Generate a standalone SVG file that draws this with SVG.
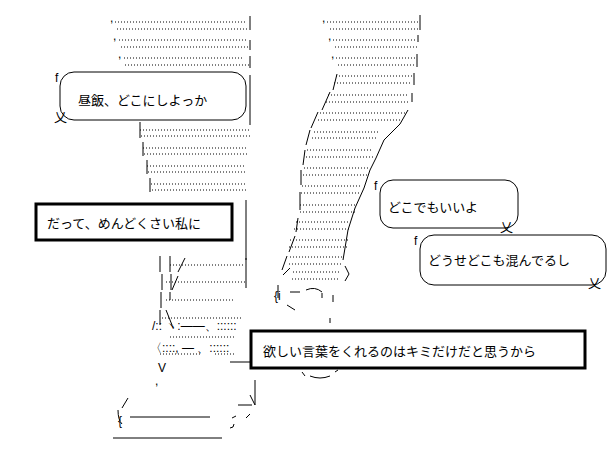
<svg xmlns="http://www.w3.org/2000/svg" width="616" height="476" viewBox="0 0 616 476">
<style>
.d{stroke:#000;stroke-width:1;stroke-dasharray:1 2;fill:none}
.l{stroke:#000;stroke-width:1;fill:none}
.t{font-family:"Noto Sans CJK JP","Noto Sans",sans-serif;font-size:13px;fill:#000}
.a{font-family:"Liberation Sans",sans-serif;font-size:12px;fill:#000}
.bub{fill:#fff;stroke:#000;stroke-width:1}
.box{fill:#fff;stroke:#000;stroke-width:3}
</style>
<rect width="616" height="476" fill="#fff"/>
<g id="leftleg">
<path class="d" d="M115 22H245M117 29H248M119 40H246M121 47H250M124 58H244M125 65H250M140 130H250M141 136H250M143 148H248M144 154H248M147 166H246M148 172H246M151 184H247M152 190H247"/>
<path class="l" d="M250 16V30M250 40V50M250 56V68M250 75V125M140 122V138M143 142V156M147 160V174M150 178V192M246 200V260"/>
<text class="a" x="110" y="22">,</text><text class="a" x="113" y="40">,</text><text class="a" x="118" y="58">,</text>
<path class="d" d="M170 265H245M166 282H245M166 300H235M162 318H243M170 337H235M160 354H200M215 354H235"/>
<path class="l" d="M160 256V272M170 256V272M162 274V290M171 274V290M161 292V308M170 292V300M246 258V288M160 310V325M166 310L172 325M185 258L178 272M178 276L172 290"/>
<text class="a" x="152" y="330">/:: ヽ:——、::::::</text>
<text class="a" x="150" y="352">〈::::,  —  、::::::</text>
<text class="a" x="158" y="372">V</text>
<text class="a" x="155" y="385">,</text>
<path class="l" d="M230 362H250M255 380V405M238 405H252M250 395L255 405M128 398L122 408M118 410Q118 420 122 424M130 417H210M113 438H222M232 418L236 416M246 418L250 414M230 428Q234 428 234 424"/>
<text class="a" x="118" y="425">{</text>
</g>
<g id="rightleg">
<path class="d" d="M327 22H420M330 29H420M333 40H417M335 47H417M336 58H415M338 65H415M336 76H412M334 83H412M328 95H408M326 102H408M320 113H405M318 120H402M314 132H378M312 138H378M307 150H373M306 157H373M304 168H368M303 175H368M302 186H360M301 193H360M300 205H356M300 212H356M296 222H350M294 229H350M290 240H348M289 247H348M290 257H342M289 264H342M293 272H340M292 279H340"/>
<path class="l" d="M420 15V30M418 35V42M417 54V67M414 73V85M412 93V102M337 74L333 90M330 92L322 110M318 112L311 128M408 110L400 124L384 140L376 158L370 170L364 188L355 208L348 230L345 248L343 260M310 130L306 145M305 150L303 165M301 170L301 185M300 192V210M298 218L296 232M295 236L289 252M287 256L282 270M283 275L290 268M345 266L349 274L345 281M278 285V298M290 292H300M306 290Q315 286 322 292M322 293V298M333 295V302M287 305L295 310M330 318V323M310 376Q320 380 330 376M302 372L305 376M335 372L338 370"/>
<text class="a" x="322" y="22">,</text><text class="a" x="328" y="40">,</text><text class="a" x="331" y="58">,</text>
<text class="a" x="274" y="300">{i</text>
</g>
<g id="bubble1">
<rect class="bub" x="60" y="72" width="186" height="48" rx="14"/>
<text class="t" x="78" y="105">昼飯、どこにしよっか</text>
<text class="a" x="55" y="82">f</text>
<text class="t" x="54" y="122">乂</text>
</g>
<g id="box2">
<rect class="box" x="36" y="204" width="196" height="36"/>
<text class="t" x="47" y="228">だって、めんどくさい私に</text>
</g>
<g id="bubble3">
<rect class="bub" x="380" y="180" width="138" height="48" rx="13"/>
<text class="t" x="388" y="212">どこでもいいよ</text>
<text class="a" x="374" y="190">f</text>
<text class="t" x="500" y="232">乂</text>
</g>
<g id="bubble4">
<rect class="bub" x="420" y="235" width="186" height="50" rx="14"/>
<text class="t" x="428" y="265">どうせどこも混んでるし</text>
<text class="a" x="414" y="245">f</text>
<text class="t" x="588" y="288">乂</text>
</g>
<g id="box5">
<rect class="box" x="251" y="331" width="334" height="37"/>
<text class="t" x="263" y="356">欲しい言葉をくれるのはキミだけだと思うから</text>
</g>
</svg>
